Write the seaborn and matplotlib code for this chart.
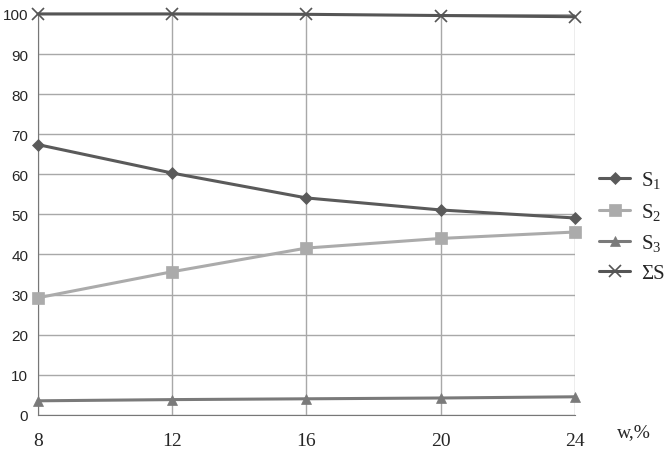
import pandas as pd
import matplotlib
matplotlib.use("Agg")
import matplotlib.pyplot as plt
import seaborn as sns

# data
w = [8, 12, 16, 20, 24]
s1 = [67.4, 60.3, 54.1, 51.1, 49.1]
s2 = [29.2, 35.7, 41.6, 44.0, 45.6]
s3 = [3.5, 3.8, 4.0, 4.2, 4.5]
s_sum = [100.0, 100.0, 99.9, 99.6, 99.3]
series_names = [r"S$_\mathrm{1}$", r"S$_\mathrm{2}$", r"S$_\mathrm{3}$", "ΣS"]

sns.set_style("white")
plt.rcParams["font.family"] = ["Liberation Sans", "DejaVu Sans"]
plt.rcParams["mathtext.fontset"] = "custom"
plt.rcParams["mathtext.rm"] = "Liberation Serif"
plt.rcParams["mathtext.it"] = "Liberation Serif:italic"

df = pd.DataFrame({"w": w * 4,
                   "val": s1 + s2 + s3 + s_sum,
                   "series": sum([[n] * len(w) for n in series_names], [])})

fig = plt.figure(figsize=(6.67, 4.52), dpi=100)
ax = fig.add_axes([0.057, 0.080, 0.805, 0.887])

colors = ["#5a5a5a", "#ababab", "#7a7a7a", "#555555"]
markers = ["D", "s", "^", "x"]
sizes = [6, 8, 7, 8]
for name, c, m, ms in zip(series_names, colors, markers, sizes):
    d = df[df["series"] == name]
    sns.lineplot(data=d, x="w", y="val", ax=ax, color=c, marker=m, markersize=ms,
                 markeredgecolor=c, markeredgewidth=1.2 if m == "x" else 0.5,
                 linewidth=2.2, label=name, clip_on=False, zorder=3)

ax.set_xlim(8, 24)
ax.set_ylim(0, 100)
ax.set_xticks(w)
ax.set_yticks(range(0, 101, 10))
ax.set_xticklabels([str(v) for v in w], family="Liberation Serif", fontsize=14)
ax.tick_params(axis="y", labelsize=11, length=4, color="#777777", pad=3)
ax.tick_params(axis="x", length=4, color="#777777", pad=8)
ax.grid(True, color="#a8a8a8", linewidth=1.0)
for side in ["top", "right"]:
    ax.spines[side].set_visible(False)
ax.spines["left"].set_color("#777777")
ax.spines["bottom"].set_color("#777777")
ax.set_xlabel("")
ax.set_ylabel("")
fig.text(0.976, 0.025, "w,%", family="Liberation Serif", fontsize=14, ha="right", va="bottom")

leg = ax.legend(loc="center left", bbox_to_anchor=(1.045, 0.47), frameon=False,
                prop={"family": "Liberation Serif", "size": 15}, handlelength=1.5,
                handletextpad=0.5, borderaxespad=0, borderpad=0, labelspacing=0.5)

fig.savefig("out.png", dpi=100)
